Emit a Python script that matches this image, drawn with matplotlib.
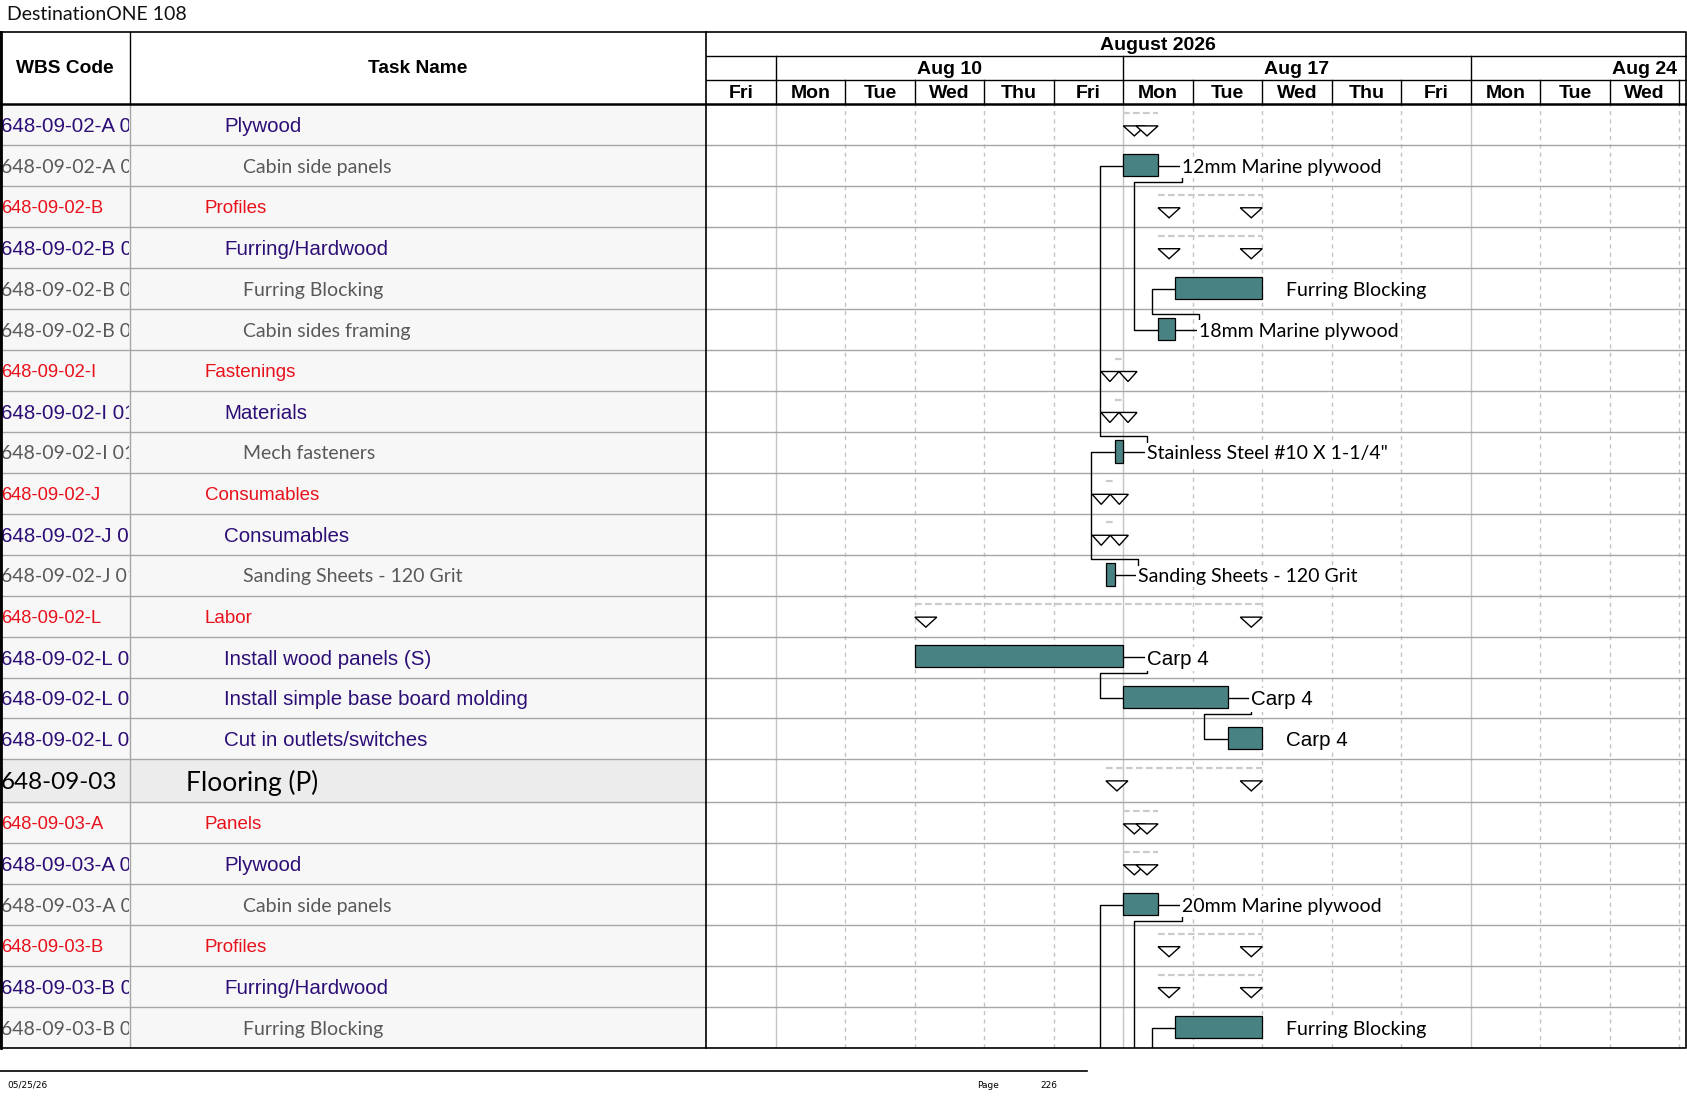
import numpy as np
import matplotlib
matplotlib.use("Agg")
import matplotlib.pyplot as plt
from matplotlib.patches import Rectangle

# ---- table data ---------------------------------------------------------
wbs_codes = ["648-09-02-A 01", "648-09-02-A 01 01", "648-09-02-B", "648-09-02-B 01",
             "648-09-02-B 01 01", "648-09-02-B 01 02", "648-09-02-I", "648-09-02-I 01",
             "648-09-02-I 01-01", "648-09-02-J", "648-09-02-J 01", "648-09-02-J 01 01",
             "648-09-02-L", "648-09-02-L 01", "648-09-02-L 02", "648-09-02-L 03",
             "648-09-03", "648-09-03-A", "648-09-03-A 01", "648-09-03-A 01 01",
             "648-09-03-B", "648-09-03-B 01", "648-09-03-B 01 01"]
task_names = ["Plywood", "Cabin side panels", "Profiles", "Furring/Hardwood",
              "Furring Blocking", "Cabin sides framing", "Fastenings", "Materials",
              "Mech fasteners", "Consumables", "Consumables", "Sanding Sheets - 120 Grit",
              "Labor", "Install wood panels (S)", "Install simple base board molding",
              "Cut in outlets/switches", "Flooring (P)", "Panels", "Plywood",
              "Cabin side panels", "Profiles", "Furring/Hardwood", "Furring Blocking"]
outline_level = [2, 3, 1, 2, 3, 3, 1, 2, 3, 1, 2, 3, 1, 2, 2, 2, 0, 1, 2, 3, 1, 2, 3]

# ---- timescale (working days, 0 = Fri Aug 7) ----------------------------
day_labels = ["Fri", "Mon", "Tue", "Wed", "Thu", "Fri", "Mon", "Tue", "Wed",
              "Thu", "Fri", "Mon", "Tue", "Wed"]
week_starts = [-4, 1, 6, 11]
week_labels = ["", "Aug 10", "Aug 17", "Aug 24"]
month_label = "August 2026"
month_center = 6.5

# ---- tasks (rows 23+ continue on the next page) -------------------------
bar_rows = [1, 4, 5, 8, 11, 13, 14, 15, 19, 22, 23, 26, 29]
bar_start = [6.0, 6.75, 6.5, 5.875, 5.75, 3.0, 6.0, 7.5, 6.0, 6.75, 6.5, 5.875, 5.75]
bar_finish = [6.5, 8.0, 6.75, 6.0, 5.875, 6.0, 7.5, 8.0, 6.5, 8.0, 6.75, 6.0, 5.875]
bar_labels = ["12mm Marine plywood", "Furring Blocking", "18mm Marine plywood",
              'Stainless Steel #10 X 1-1/4"', "Sanding Sheets - 120 Grit",
              "Carp 4", "Carp 4", "Carp 4", "20mm Marine plywood", "Furring Blocking",
              "18mm Marine plywood", 'Stainless Steel #10 X 1-1/4"',
              "Sanding Sheets - 120 Grit"]
label_arial = [False, False, False, False, False, True, True, True, False, False,
               False, False, False]

sum_rows = [0, 2, 3, 6, 7, 9, 10, 12, 16, 17, 18, 20, 21]
sum_start = [6.0, 6.5, 6.5, 5.875, 5.875, 5.75, 5.75, 3.0, 5.75, 6.0, 6.0, 6.5, 6.5]
sum_finish = [6.5, 8.0, 8.0, 6.0, 6.0, 5.875, 5.875, 8.0, 8.0, 6.5, 6.5, 8.0, 8.0]

link_pred = [8, 11, 1, 5, 13, 14, 26, 29, 19, 23]
link_succ = [1, 8, 5, 4, 14, 15, 19, 26, 23, 22]

# ---- layout (pixels) ----------------------------------------------------
W, H = 1687, 1097
TOP, HDR, BOT = 31.7, 104.4, 1048.0
COL1, COL2, RIGHT = 130.0, 706.3, 1686.5
DAY = 69.5
LINK_DX = 0.34
TRI_W, TRI_S = 0.317, 0.26
TEAL = "#488282"
ROWLINE = "#a6a6a6"
GRID = "#c4c4c4"

fig = plt.figure(figsize=(W / 100, H / 100), dpi=100)
fig.patch.set_facecolor("white")


def box(x0, y0, x1, y1):
    return [x0 / W, 1 - y1 / H, (x1 - x0) / W, (y1 - y0) / H]


row_h = np.where(np.array(outline_level) == 0, 1.05, 1.0)
row_top = np.concatenate([[0.0], np.cumsum(row_h)])
n_vis = row_top[-1]
n_rows = len(row_h)


def top_of(r):
    return row_top[r] if r < n_rows else n_vis + (r - n_rows)


def height_of(r):
    return row_h[r] if r < n_rows else 1.0


def mid_of(r):
    return top_of(r) + height_of(r) / 2


xmax = (RIGHT - COL2) / DAY

ax_t = fig.add_axes(box(0, HDR, COL2, BOT))
ax_t.set_xlim(0, COL2)
ax_t.set_ylim(n_vis, 0)
ax_t.axis("off")

ax_g = fig.add_axes(box(COL2, HDR, RIGHT, BOT))
ax_g.set_xlim(0, xmax)
ax_g.set_ylim(n_vis, 0)
ax_g.axis("off")

ax_th = fig.add_axes(box(0, TOP, COL2, HDR))
ax_th.set_xlim(0, COL2)
ax_th.set_ylim(1, 0)
ax_th.axis("off")

ax_gh = fig.add_axes(box(COL2, TOP, RIGHT, HDR))
ax_gh.set_xlim(0, xmax)
ax_gh.set_ylim(3, 0)
ax_gh.axis("off")

# ---- table body ---------------------------------------------------------
styles = {
    0: dict(color="black", family="Lato", size=19, code_size=17.5),
    1: dict(color="#e8111b", family="Liberation Sans", size=13.5, code_size=13.2),
    2: dict(color="#2d0e76", family="Liberation Sans", size=14.8, code_size=14.8),
    3: dict(color="#595959", family="Lato", size=14, code_size=14),
}
clip = Rectangle((0, 0), COL1 - 1, n_vis, transform=ax_t.transData)
for r, (code, name, lvl) in enumerate(zip(wbs_codes, task_names, outline_level)):
    ax_t.add_patch(Rectangle((0, row_top[r]), COL2, row_h[r],
                             fc="#ececec" if lvl == 0 else "#f7f7f7", ec="none"))
    st = styles[lvl]
    t = ax_t.text(1, mid_of(r), code, ha="left", va="center_baseline",
                  color=st["color"], family=st["family"], fontsize=st["code_size"],
                  clip_on=True)
    t.set_clip_path(clip)
    ax_t.text(186 + 19 * lvl, mid_of(r), name, ha="left", va="center_baseline",
              color=st["color"], family=st["family"], fontsize=st["size"])

for y in row_top[1:]:
    ax_t.axhline(y, color=ROWLINE, lw=1.0)
    ax_g.axhline(y, color=ROWLINE, lw=1.0, zorder=1)
ax_t.axvline(COL1, color=ROWLINE, lw=1.0)

# ---- gantt grid ---------------------------------------------------------
for d in range(1, len(day_labels) + 1):
    if d < len(day_labels) and day_labels[d] == "Mon":
        ax_g.axvline(d, color=GRID, lw=1.0, zorder=0)
    else:
        ax_g.axvline(d, color=GRID, lw=1.0, ls=(0, (3, 3)), zorder=0)

# summary markers
for r, s, f in zip(sum_rows, sum_start, sum_finish):
    t0 = top_of(r)
    ax_g.plot([s, f], [t0 + 0.21, t0 + 0.21], color="#cbcbcb", lw=1.6,
              ls=(0, (3, 1.5)), zorder=2)
    if f - s >= TRI_W:
        lefts, w = [s, f - TRI_W], TRI_W
    else:
        c = (s + f) / 2
        lefts, w = [c - TRI_S, c], TRI_S
    for l in lefts:
        ax_g.fill([l, l + w, l + w / 2], [t0 + 0.525, t0 + 0.525, t0 + 0.77],
                  fc="white", ec="black", lw=1.0, zorder=3)

# links
start_of = dict(zip(bar_rows, bar_start))
finish_of = dict(zip(bar_rows, bar_finish))
for p, s in zip(link_pred, link_succ):
    fp, ss = finish_of[p], start_of[s]
    yp, ys = mid_of(p), mid_of(s)
    if s > p:
        yb = top_of(p) + height_of(p) - 0.11
    else:
        yb = top_of(p) + 0.11
    ax_g.plot([fp, fp + LINK_DX, fp + LINK_DX, ss - LINK_DX, ss - LINK_DX, ss],
              [yp, yp, yb, yb, ys, ys], color="black", lw=1.0, zorder=3)

# task bars
mids = [mid_of(r) - 0.02 for r in bar_rows]
widths = np.array(bar_finish) - np.array(bar_start)
ax_g.barh(mids, widths, left=bar_start, height=0.545, color=TEAL,
          edgecolor="black", linewidth=0.9, zorder=4)
for r, y, f, lab, arial in zip(bar_rows, mids, bar_finish, bar_labels, label_arial):
    if r >= n_rows:
        continue  # label sits on the next page
    ax_g.text(f + LINK_DX, y + 0.02, lab, ha="left", va="center_baseline",
              family="Liberation Sans" if arial else "Lato",
              fontsize=14.8 if arial else 14, color="black", zorder=5,
              bbox=dict(fc="white", ec="none", pad=1.5))

# ---- headers ------------------------------------------------------------
ax_th.text(COL1 / 2, 0.5, "WBS Code", ha="center", va="center",
           family="Liberation Sans", weight="bold", fontsize=13.8)
ax_th.text((COL1 + COL2) / 2, 0.5, "Task Name", ha="center", va="center",
           family="Liberation Sans", weight="bold", fontsize=13.8)
ax_th.axvline(COL1, color="black", lw=1.0)

hdr_font = dict(family="Liberation Sans", weight="bold", fontsize=14)
ax_gh.axhline(1, color="black", lw=1.0)
ax_gh.axhline(2, color="black", lw=1.0)
ax_gh.text(month_center, 0.55, month_label, ha="center", va="center", **hdr_font)
for ws, wl in zip(week_starts, week_labels):
    if ws > 0:
        ax_gh.plot([ws, ws], [1, 2], color="black", lw=1.0)
    if wl:
        ax_gh.text(ws + 2.5, 1.55, wl, ha="center", va="center", **hdr_font)
for d, dl in enumerate(day_labels):
    ax_gh.text(d + 0.5, 2.55, dl, ha="center", va="center", **hdr_font)
    ax_gh.plot([d + 1, d + 1], [2, 3], color="black", lw=1.0)

# ---- frame, title, footer -----------------------------------------------
ax_o = fig.add_axes([0, 0, 1, 1], zorder=10)
ax_o.set_xlim(0, W)
ax_o.set_ylim(H, 0)
ax_o.axis("off")
ax_o.patch.set_alpha(0)
ax_o.plot([1, RIGHT, RIGHT, 1, 1], [TOP, TOP, BOT, BOT, TOP], color="black", lw=1.2)
ax_o.plot([1, 1], [TOP, BOT], color="black", lw=2.0)
ax_o.plot([0, RIGHT], [HDR, HDR], color="black", lw=1.8)
ax_o.plot([COL2, COL2], [TOP, BOT], color="black", lw=1.2)
ax_o.plot([0, 1087], [1071, 1071], color="black", lw=1.2)

ax_o.text(7, 15, "DestinationONE 108", ha="left", va="center", family="Lato",
          fontsize=14, color="#111111")
ax_o.text(7, 1085, "05/25/26", ha="left", va="center", family="Liberation Sans Narrow",
          fontsize=6.5)
ax_o.text(977, 1085, "Page", ha="left", va="center", family="Liberation Sans Narrow",
          fontsize=6.5)
ax_o.text(1040, 1085, "226", ha="left", va="center", family="Liberation Sans Narrow",
          fontsize=6.5)

fig.savefig("out.png", dpi=100, facecolor="white")
